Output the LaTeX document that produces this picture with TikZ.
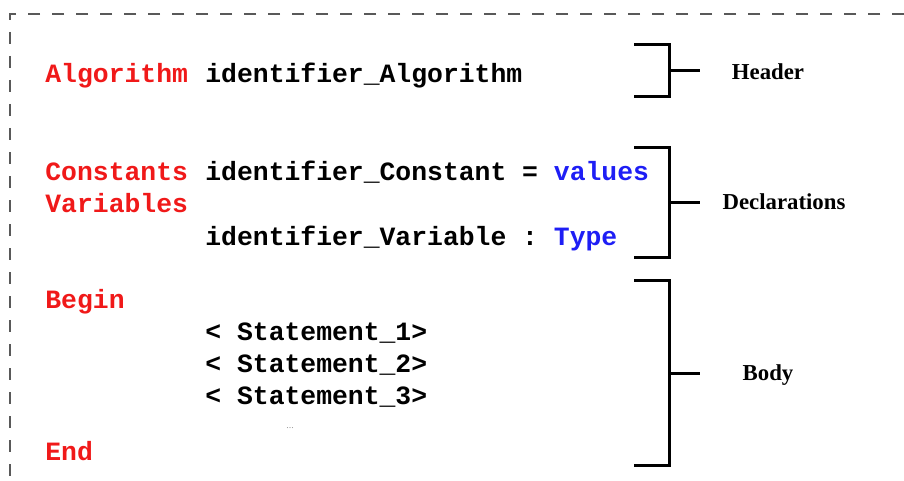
\documentclass[tikz,border=0pt]{standalone}
\usepackage{fontspec}
\setmainfont{Liberation Serif}
\setmonofont{Liberation Mono}
\definecolor{keyred}{RGB}{240,25,25}
\definecolor{typeblue}{RGB}{30,30,245}
\tikzset{
  code/.style={anchor=base west, inner sep=0pt, font=\ttfamily\bfseries\fontsize{13.2}{16}\selectfont},
  keyword/.style={code, text=keyred},
  part/.style={inner sep=0pt, font=\bfseries\fontsize{11.4}{14}\selectfont},
  brace/.style={line width=1.5pt},
}
\begin{document}
\begin{tikzpicture}[x=0.5pt,y=-0.5pt]
  \useasboundingbox (0,0) rectangle (904,481);
  % dashed frame
  \draw[black!65, line width=1pt, dash pattern=on 6pt off 6pt] (904,14) -- (10,14) -- (10,481);

  % header
  \node[keyword] (alg) at (45,83) {Algorithm};
  \node[code] (algid) at (205,83) {identifier\_Algorithm};

  % declarations
  \node[keyword] (const) at (45,180) {Constants};
  \node[code] (constid) at (205,180) {identifier\_Constant = \textcolor{typeblue}{values}};
  \node[keyword] (var) at (45,212) {Variables};
  \node[code] (varid) at (205,245) {identifier\_Variable : \textcolor{typeblue}{Type}};

  % body
  \node[keyword] (begin) at (45,308) {Begin};
  \foreach \i in {1,2,3} {
    \node[code] (stmt\i) at (205,308+32*\i) {< Statement\_\i>};
  }
  \node[inner sep=0pt, font=\fontsize{5}{6}\selectfont, text=black!40] (dots) at (290,428) {...};
  \node[keyword] (end) at (45,460) {End};

  % brackets
  \foreach \ya/\yb/\ym/\name in {45/97/71/header, 147/257/202/decl, 280/465/373/body} {
    \draw[brace] (634,\ya) -- (669,\ya) -- (669,\yb) -- (634,\yb);
    \coordinate (\name-tip) at (700,\ym);
    \draw[brace] (669,\ym) -- (\name-tip);
  }
  \node[part] (header) at (768,72) {Header};
  \node[part] (decl) at (784,202) {Declarations};
  \node[part] (body) at (768,375) {Body};
\end{tikzpicture}
\end{document}
